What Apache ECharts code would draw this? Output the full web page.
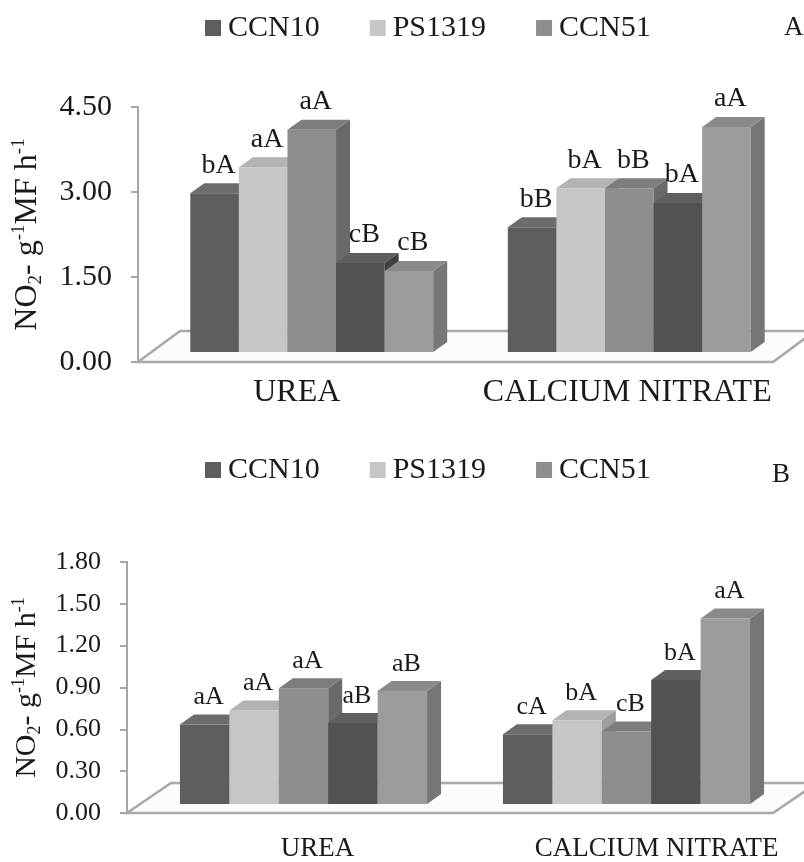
<!DOCTYPE html>
<html>
<head>
<meta charset="utf-8">
<script src="https://cdn.jsdelivr.net/npm/echarts@6/dist/echarts.min.js"></script>
<style>
  html, body { margin: 0; padding: 0; background: #fff; }
  #chart { width: 804px; height: 862px; }
</style>
</head>
<body>
<div id="chart"></div>
<script>
const categories = ['UREA', 'CALCIUM NITRATE'];
const legendNames = ['CCN10', 'PS1319', 'CCN51'];
// five bars per group, the last two reuse CCN10 / CCN51 shades
const slotNames = ['CCN10', 'PS1319', 'CCN51', 'CCN10', 'CCN51'];

// panel A (0 - 4.50)
const ureaA = [2.80, 3.26, 3.92, 1.57, 1.43];
const nitrateA = [2.20, 2.89, 2.89, 2.63, 3.97];
const ureaLettersA = ['bA', 'aA', 'aA', 'cB', 'cB'];
const nitrateLettersA = ['bB', 'bA', 'bB', 'bA', 'aA'];

// panel B (0 - 1.80)
const ureaB = [0.57, 0.67, 0.83, 0.58, 0.81];
const nitrateB = [0.50, 0.60, 0.52, 0.89, 1.33];
const ureaLettersB = ['aA', 'aA', 'aA', 'aB', 'aB'];
const nitrateLettersB = ['cA', 'bA', 'cB', 'bA', 'aA'];

const FONT = '"Liberation Serif", "Times New Roman", serif';

const shades = [
  { front: '#5e5e5e', top: '#6c6c6c', side: '#4a4a4a' },
  { front: '#c6c6c6', top: '#b3b3b3', side: '#9e9e9e' },
  { front: '#8e8e8e', top: '#7d7d7d', side: '#696969' },
  { front: '#525252', top: '#5f5f5f', side: '#3f3f3f' },
  { front: '#9c9c9c', top: '#8a8a8a', side: '#767676' }
];

// 3d look: front face pushed back (fx, fy), bar depth (bx, by), floor depth (dx, dy)
const panelA = { fx: 15, fy: -10, bx: 14, by: -10, dx: 42, dy: -31, barFrac: 0.153, labelSize: 28 };
const panelB = { fx: 15, fy: -9, bx: 14, by: -10, dx: 44, dy: -30, barFrac: 0.153, labelSize: 26 };

function floorItem(p) {
  return function (params, api) {
    const cs = params.coordSys;
    const x0 = cs.x, x1 = cs.x + cs.width, y0 = cs.y + cs.height;
    return {
      type: 'polygon',
      shape: { points: [[x0, y0], [x1, y0], [x1 + p.dx, y0 + p.dy], [x0 + p.dx, y0 + p.dy]] },
      style: { fill: '#fcfcfc', stroke: '#a9a9a9', lineWidth: 2.5 }
    };
  };
}

function barItem(p, slot, letters) {
  return function (params, api) {
    const cat = api.value(0);
    const v = api.value(1);
    const base = api.coord([cat, 0]);
    const top = api.coord([cat, v]);
    const band = api.size([1, 0])[0];
    const w = band * p.barFrac;
    const x0 = base[0] - 2.5 * w + slot * w + p.fx;
    const yb = base[1] + p.fy;
    const yt = top[1] + p.fy;
    const bx = p.bx, by = p.by;
    const c = shades[slot];
    return {
      type: 'group',
      children: [
        { type: 'rect', shape: { x: x0, y: yt, width: w, height: yb - yt }, style: { fill: c.front } },
        { type: 'polygon', shape: { points: [[x0, yt], [x0 + w, yt], [x0 + w + bx, yt + by], [x0 + bx, yt + by]] }, style: { fill: c.top } },
        { type: 'polygon', shape: { points: [[x0 + w, yt], [x0 + w + bx, yt + by], [x0 + w + bx, yb + by], [x0 + w, yb]] }, style: { fill: c.side } },
        {
          type: 'text', z2: 100,
          style: {
            text: letters[params.dataIndex], x: x0 + w / 2 + 4, y: yt + by - 4,
            align: 'center', verticalAlign: 'bottom',
            fontSize: p.labelSize, fontFamily: FONT, fill: '#1a1a1a'
          }
        }
      ]
    };
  };
}

function panelSeries(idx, p, urea, nitrate, ureaL, nitrateL) {
  const list = [{
    type: 'custom', name: 'floor' + idx, xAxisIndex: idx, yAxisIndex: idx,
    renderItem: floorItem(p), data: [[0, 0]], clip: false, silent: true
  }];
  slotNames.forEach(function (name, j) {
    list.push({
      type: 'custom', name: name, xAxisIndex: idx, yAxisIndex: idx,
      itemStyle: { color: shades[j].front },
      renderItem: barItem(p, j, [ureaL[j], nitrateL[j]]),
      encode: { x: 0, y: 1 },
      data: [[0, urea[j]], [1, nitrate[j]]],
      clip: false
    });
  });
  return list;
}

const yNameRich = function (size) {
  const small = Math.round(size * 0.6);
  return {
    fontFamily: FONT, fontSize: size, color: '#1a1a1a',
    rich: {
      n: { fontFamily: FONT, fontSize: size, lineHeight: size + 4, color: '#1a1a1a' },
      s: { fontFamily: FONT, fontSize: small, lineHeight: small, verticalAlign: 'bottom', color: '#1a1a1a' },
      p: { fontFamily: FONT, fontSize: small, lineHeight: small, verticalAlign: 'top', color: '#1a1a1a' }
    }
  };
};
const yName = '{n|NO}{s|2}{n|- g}{p|-1}{n|MF h}{p|-1}';

function yAxisOf(idx, max, step, size, nameSize, gap) {
  return {
    gridIndex: idx, type: 'value', min: 0, max: max, interval: step,
    name: yName, nameLocation: 'middle', nameGap: gap, nameTextStyle: yNameRich(nameSize),
    axisLine: { show: true, lineStyle: { color: '#a6a6a6', width: 2 } },
    axisTick: { show: true, length: 7, lineStyle: { color: '#a6a6a6', width: 2 } },
    splitLine: { show: false },
    axisLabel: { formatter: function (v) { return v.toFixed(2); }, fontFamily: FONT, fontSize: size, color: '#1a1a1a', margin: 26 }
  };
}

function xAxisOf(idx, size, margin, pads) {
  const rich = {};
  pads.forEach(function (pad, i) {
    rich['c' + i] = { fontFamily: FONT, fontSize: size, color: '#1a1a1a', padding: [0, 0, 0, pad] };
  });
  return {
    gridIndex: idx, type: 'category', data: categories,
    axisLine: { show: false }, axisTick: { show: false },
    axisLabel: {
      interval: 0, margin: margin, fontFamily: FONT, fontSize: size, color: '#1a1a1a',
      formatter: function (v, i) { return '{c' + i + '|' + v + '}'; }, rich: rich
    }
  };
}

const legendOf = function (top) {
  return {
    data: legendNames, left: 200, top: top, icon: 'rect',
    itemWidth: 16, itemHeight: 16, itemGap: 50,
    textStyle: { fontFamily: FONT, fontSize: 30, color: '#1a1a1a', padding: [0, 0, 0, 2] }
  };
};

const chart = echarts.init(document.getElementById('chart'));
chart.setOption({
  animation: false,
  backgroundColor: '#ffffff',
  title: [
    { text: 'A', left: 779, top: 9, textStyle: { fontFamily: FONT, fontSize: 27, fontWeight: 'normal', color: '#1a1a1a' } },
    { text: 'B', left: 767, top: 456, textStyle: { fontFamily: FONT, fontSize: 27, fontWeight: 'normal', color: '#1a1a1a' } }
  ],
  legend: [legendOf(8), legendOf(450)],
  grid: [
    { left: 138, top: 107, width: 635, height: 255 },
    { left: 127, top: 562, width: 646, height: 255 }
  ],
  xAxis: [xAxisOf(0, 32, 15, [0, 26]), xAxisOf(1, 27, 22, [58, 90])],
  yAxis: [yAxisOf(0, 4.5, 1.5, 30, 32, 92), yAxisOf(1, 1.8, 0.3, 26, 30, 78)],
  series: panelSeries(0, panelA, ureaA, nitrateA, ureaLettersA, nitrateLettersA)
    .concat(panelSeries(1, panelB, ureaB, nitrateB, ureaLettersB, nitrateLettersB))
});
</script>
</body>
</html>
